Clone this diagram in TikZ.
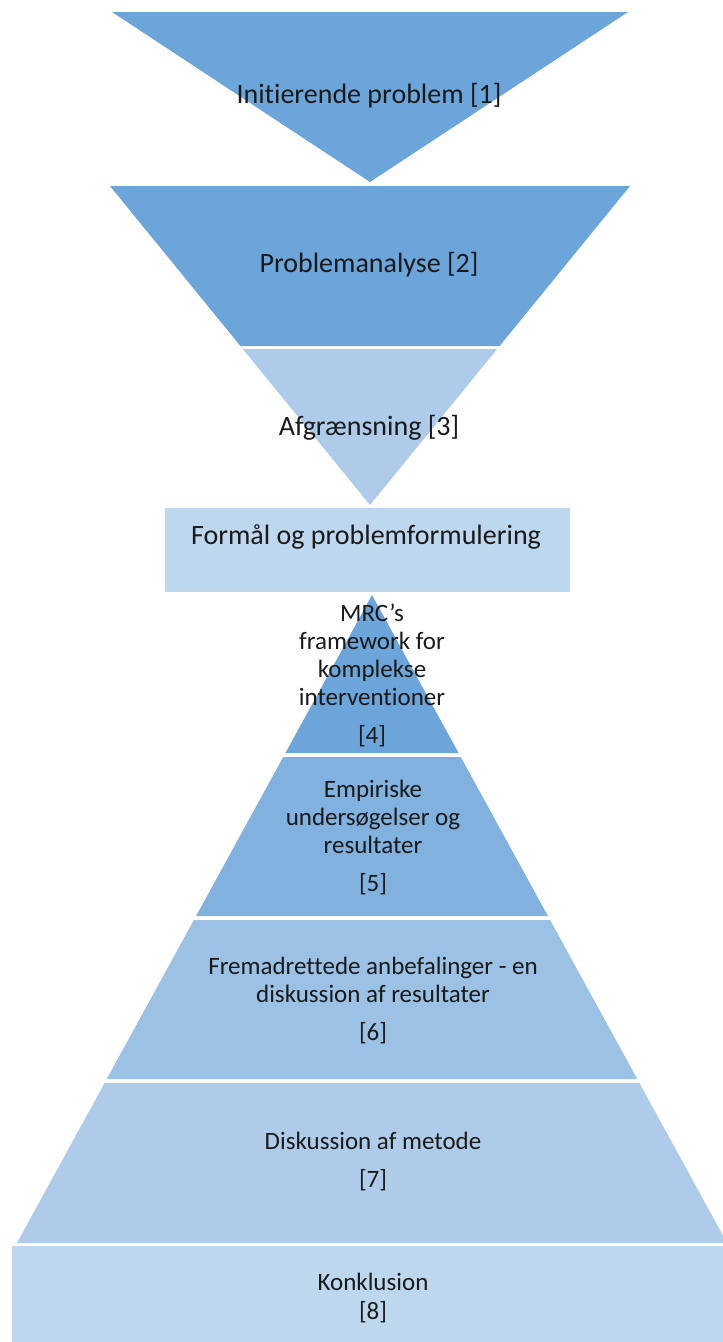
\documentclass[tikz,border=0pt]{standalone}
\usepackage{fontspec}
\setmainfont[Ligatures=NoCommon]{Carlito}
\definecolor{cdark}{HTML}{6CA5DA}
\definecolor{cfive}{HTML}{80B1DF}
\definecolor{csix}{HTML}{9BC1E4}
\definecolor{clight}{HTML}{AECCE9}
\definecolor{cbox}{HTML}{BDD7EE}
\definecolor{ctext}{HTML}{1A1A1A}
\begin{document}
\begin{tikzpicture}[x=1pt,y=-1pt,
  lblbig/.style={text=ctext,font=\fontsize{28}{32}\selectfont,inner sep=0pt,align=center},
  lblsmall/.style={text=ctext,font=\fontsize{25}{28}\selectfont,inner sep=0pt,align=center}]
\useasboundingbox (0,0) rectangle (723,1342);
% top inverted triangle
\fill[cdark] (112,12) -- (628,12) -- (370,182) -- cycle;
% funnel
\fill[cdark] (110,186) -- (630,186) -- ({370+0.815*(505-346)},346) -- ({370-0.815*(505-346)},346) -- cycle;
\fill[clight] ({370-0.815*(505-349)},349) -- ({370+0.815*(505-349)},349) -- (370,505) -- cycle;
% Formaal box
\fill[cbox] (165,508) rectangle (570,592);
% pyramid
\fill[cdark] (372,595) -- ({372+0.548*(753-595)},753) -- ({372-0.548*(753-595)},753) -- cycle;
\fill[cfive] ({372-0.548*(757-595)},757) -- ({372+0.548*(757-595)},757) -- ({372+0.548*(916-595)},916) -- ({372-0.548*(916-595)},916) -- cycle;
\fill[csix] ({372-0.548*(920-595)},920) -- ({372+0.548*(920-595)},920) -- ({372+0.548*(1079-595)},1079) -- ({372-0.548*(1079-595)},1079) -- cycle;
\fill[clight] ({372-0.548*(1083-595)},1083) -- ({372+0.548*(1083-595)},1083) -- ({372+0.548*(1243-595)},1243) -- ({372-0.548*(1243-595)},1243) -- cycle;
% Konklusion box
\fill[cbox] (12,1246) rectangle (723,1342);
% texts
\node[lblbig] (t1) at (369,96) {Initierende problem [1]};
\node[lblbig] (t2) at (369,265) {Problemanalyse [2]};
\node[lblbig] (t3) at (369,428) {Afgrænsning [3]};
\node[lblbig] (t0) at (366,537) {Formål og problemformulering};
\node[lblsmall] (t4) at (372,675) {MRC’s\\framework for\\komplekse\\interventioner\\[10pt][4]};
\node[lblsmall] (t5) at (373,838) {Empiriske\\undersøgelser og\\resultater\\[10pt][5]};
\node[lblsmall] (t6) at (373,1001) {Fremadrettede anbefalinger - en\\diskussion af resultater\\[10pt][6]};
\node[lblsmall] (t7) at (373,1162) {Diskussion af metode\\[10pt][7]};
\node[lblsmall] (t8) at (373,1298) {Konklusion\\[1pt][8]};
\end{tikzpicture}
\end{document}
